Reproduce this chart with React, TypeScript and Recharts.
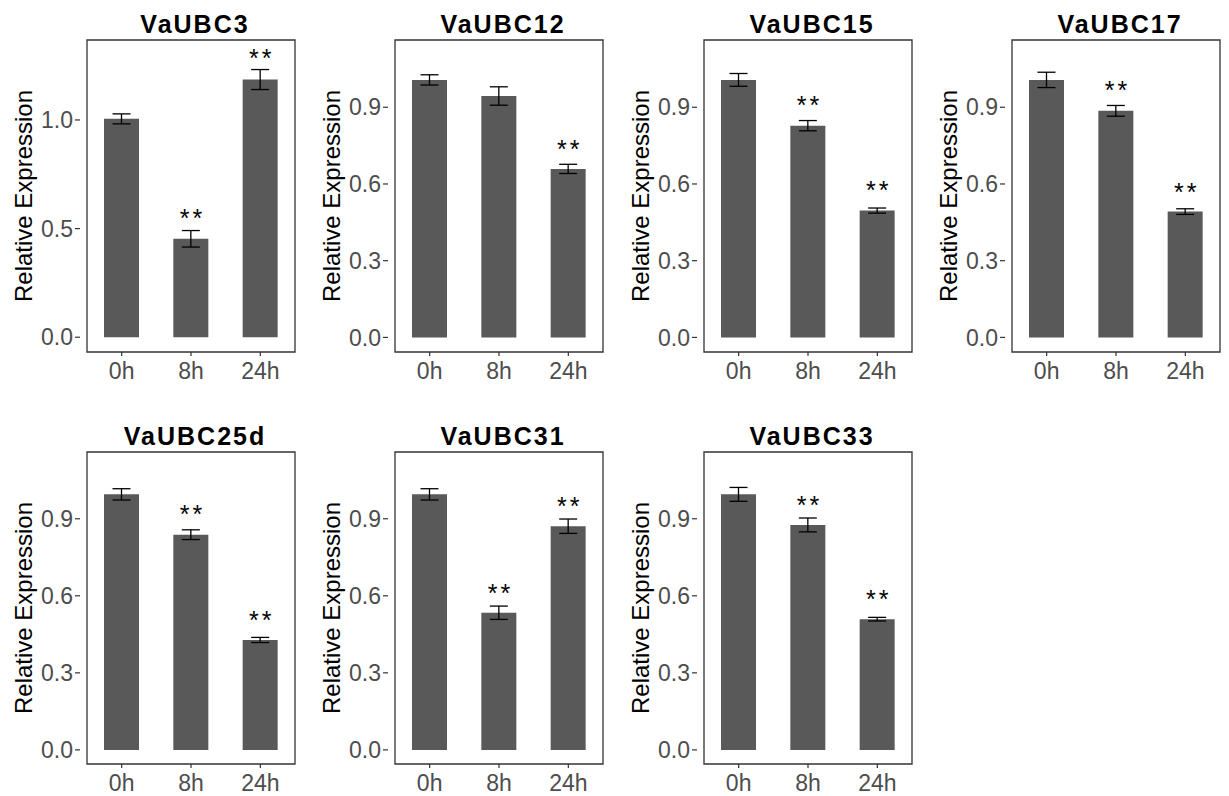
import React from "react";
import {
  ComposedChart,
  Bar,
  Line,
  XAxis,
  YAxis,
  ErrorBar,
  LabelList,
  ReferenceArea,
} from "recharts";

const times = ["0h", "8h", "24h"];

const ticksWide = [0, 0.5, 1.0];
const ticksFine = [0, 0.3, 0.6, 0.9];

const ubc3Mean = [1.005, 0.453, 1.186];
const ubc3Err = [0.023, 0.038, 0.046];
const ubc3Star = [null, 0.571, 1.306];

const ubc12Mean = [1.007, 0.944, 0.659];
const ubc12Err = [0.02, 0.036, 0.018];
const ubc12Star = [null, null, 0.756];

const ubc15Mean = [1.007, 0.828, 0.496];
const ubc15Err = [0.025, 0.02, 0.01];
const ubc15Star = [null, 0.929, 0.596];

const ubc17Mean = [1.007, 0.886, 0.492];
const ubc17Err = [0.03, 0.021, 0.011];
const ubc17Star = [null, 0.987, 0.59];

const ubc25dMean = [0.995, 0.838, 0.428];
const ubc25dErr = [0.022, 0.019, 0.01];
const ubc25dStar = [null, 0.937, 0.526];

const ubc31Mean = [0.995, 0.534, 0.871];
const ubc31Err = [0.022, 0.026, 0.028];
const ubc31Star = [null, 0.631, 0.97];

const ubc33Mean = [0.995, 0.876, 0.509];
const ubc33Err = [0.027, 0.027, 0.007];
const ubc33Star = [null, 0.975, 0.608];

const FONT = "'Liberation Sans', Arial, sans-serif";

const makeRows = (mean: number[], err: number[], star: (number | null)[]) =>
  times.map((t, i) => ({
    time: t,
    mean: mean[i],
    err: err[i],
    star: star[i],
    sig: star[i] == null ? "" : "**",
  }));

const panels = [
  { title: "VaUBC3", rows: makeRows(ubc3Mean, ubc3Err, ubc3Star), ticks: ticksWide, domain: [-0.068, 1.368], left: 80, top: 40 },
  { title: "VaUBC12", rows: makeRows(ubc12Mean, ubc12Err, ubc12Star), ticks: ticksFine, domain: [-0.057, 1.163], left: 388, top: 40 },
  { title: "VaUBC15", rows: makeRows(ubc15Mean, ubc15Err, ubc15Star), ticks: ticksFine, domain: [-0.057, 1.163], left: 697, top: 40 },
  { title: "VaUBC17", rows: makeRows(ubc17Mean, ubc17Err, ubc17Star), ticks: ticksFine, domain: [-0.057, 1.163], left: 1005, top: 40 },
  { title: "VaUBC25d", rows: makeRows(ubc25dMean, ubc25dErr, ubc25dStar), ticks: ticksFine, domain: [-0.055, 1.16], left: 80, top: 452 },
  { title: "VaUBC31", rows: makeRows(ubc31Mean, ubc31Err, ubc31Star), ticks: ticksFine, domain: [-0.055, 1.16], left: 388, top: 452 },
  { title: "VaUBC33", rows: makeRows(ubc33Mean, ubc33Err, ubc33Star), ticks: ticksFine, domain: [-0.055, 1.16], left: 697, top: 452 },
];

// asterisks drawn a little apart, like the original
const renderStar = (props: any) => {
  const { x, y, value } = props;
  if (!value || y == null || isNaN(y)) return null;
  return (
    <text
      x={x + 1.5}
      y={y + 14}
      textAnchor="middle"
      fontSize={25}
      letterSpacing={3}
      fontFamily={FONT}
      fill="#000"
    >
      {value}
    </text>
  );
};

function Panel({ p }: { p: (typeof panels)[number] }) {
  return (
    <>
      <div
        style={{
          position: "absolute",
          left: p.left + 4,
          top: p.top - 31,
          width: 222,
          height: 31,
          lineHeight: "31px",
          textAlign: "center",
          fontFamily: FONT,
          fontWeight: "bold",
          fontSize: 25,
          letterSpacing: 2,
          color: "#000",
        }}
      >
        {p.title}
      </div>
      <div style={{ position: "absolute", left: p.left - 80, top: p.top - 40 }}>
        <ComposedChart
          width={304}
          height={397}
          data={p.rows}
          margin={{ top: 40, right: 2, bottom: 0, left: 0 }}
        >
          <XAxis
            dataKey="time"
            height={45}
            axisLine={false}
            tickSize={4}
            tickMargin={7}
            padding={{ left: 7, right: 7 }}
            tickLine={{ stroke: "#333", strokeWidth: 1.2 }}
            tick={{ fontSize: 23, fill: "#4d4d4d", fontFamily: FONT }}
          />
          <YAxis
            width={80}
            domain={p.domain}
            ticks={p.ticks}
            allowDataOverflow
            axisLine={false}
            tickSize={5}
            tickMargin={2}
            tickFormatter={(v: number) => v.toFixed(1)}
            tickLine={{ stroke: "#333", strokeWidth: 1.2 }}
            tick={{ fontSize: 23, fill: "#4d4d4d", fontFamily: FONT }}
            label={{
              value: "Relative Expression",
              angle: -90,
              position: "insideLeft",
              offset: 23,
              style: { textAnchor: "middle", fontSize: 24, fill: "#000", fontFamily: FONT },
            }}
          />
          <ReferenceArea
            y1={p.domain[0]}
            y2={p.domain[1]}
            fill="none"
            stroke="#333"
            strokeWidth={1.3}
            ifOverflow="visible"
          />
          <Bar dataKey="mean" fill="#595959" barSize={35} isAnimationActive={false}>
            <ErrorBar dataKey="err" width={9} stroke="#000" strokeWidth={1.3} />
          </Bar>
          <Line
            dataKey="star"
            stroke="none"
            dot={false}
            activeDot={false}
            isAnimationActive={false}
          >
            <LabelList dataKey="sig" content={renderStar} />
          </Line>
        </ComposedChart>
      </div>
    </>
  );
}

export default function App() {
  return (
    <div
      style={{
        position: "absolute",
        left: 0,
        top: 0,
        width: 1229,
        height: 796,
        overflow: "hidden",
        background: "#fff",
      }}
    >
      {panels.map((p) => (
        <Panel key={p.title} p={p} />
      ))}
    </div>
  );
}
